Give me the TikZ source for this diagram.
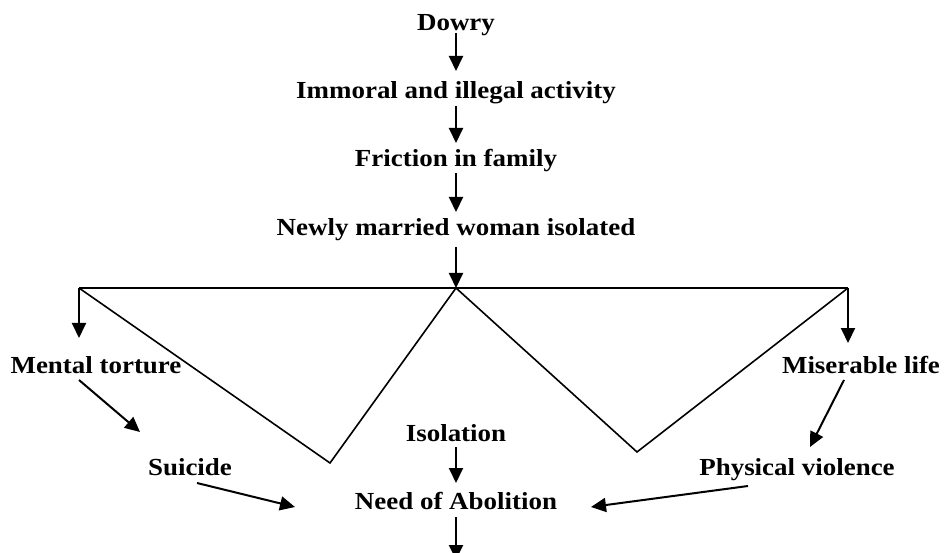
\documentclass[tikz,border=0pt]{standalone}
\usepackage{fontspec}
\setmainfont[FakeStretch=1.1]{Liberation Serif}
\usetikzlibrary{arrows.meta}
\begin{document}
\begin{tikzpicture}[x=1pt,y=-1pt,
  lbl/.style={inner sep=0pt, anchor=base, font=\bfseries\fontsize{24.5}{29}\selectfont},
  arr/.style={line width=2pt, -{Triangle[length=15pt,width=14pt]}},
  ln/.style={line width=1.6pt, line join=miter}]
\clip (0,0) rectangle (945,553);
\useasboundingbox (0,0) rectangle (945,553);
\node[lbl] (dowry) at (456,31) {Dowry};
\node[lbl] (immoral) at (456,99) {Immoral and illegal activity};
\node[lbl] (friction) at (456,167) {Friction in family};
\node[lbl] (newly) at (456,236) {Newly married woman isolated};
\node[lbl] (mental) at (96,373) {Mental torture};
\node[lbl] (miser) at (861,373) {Miserable life};
\node[lbl] (isol) at (456,441) {Isolation};
\node[lbl] (suicide) at (190,475) {Suicide};
\node[lbl] (phys) at (797,475) {Physical violence};
\node[lbl] (need) at (456,509) {Need of Abolition};
\coordinate (L) at (79,288);
\coordinate (M) at (456,288);
\coordinate (R) at (848,288);
\coordinate (V1) at (330,463);
\coordinate (V2) at (637,452);
\coordinate (Lt) at (79,338);
\coordinate (Rt) at (848,343);
\coordinate (out) at (456,560);
\draw[arr] ([yshift=-2pt]dowry.base) -- ([yshift=28pt]immoral.base);
\draw[arr] ([yshift=-7pt]immoral.base) -- ([yshift=24pt]friction.base);
\draw[arr] ([yshift=-6pt]friction.base) -- ([yshift=24pt]newly.base);
\draw[arr] ([yshift=-11pt]newly.base) -- (M);
\draw[ln] (L) -- (R);
\draw[ln] (L) -- (V1) -- (M) -- (V2) -- (R);
\draw[arr] (L) -- (Lt);
\draw[arr] (R) -- (Rt);
\draw[arr] ([shift={(-17pt,-7pt)}]mental.base) -- ([shift={(-50pt,43pt)}]suicide.base);
\draw[arr] ([shift={(-17pt,-7pt)}]miser.base) -- ([shift={(13pt,28pt)}]phys.base);
\draw[arr] ([shift={(7pt,-8pt)}]suicide.base) -- ([shift={(-161pt,2pt)}]need.base);
\draw[arr] ([shift={(-49pt,-11pt)}]phys.base) -- ([shift={(135pt,2pt)}]need.base);
\draw[arr] ([yshift=-6pt]isol.base) -- ([yshift=26pt]need.base);
\draw[arr] ([yshift=-8pt]need.base) -- (out);
\end{tikzpicture}
\end{document}
